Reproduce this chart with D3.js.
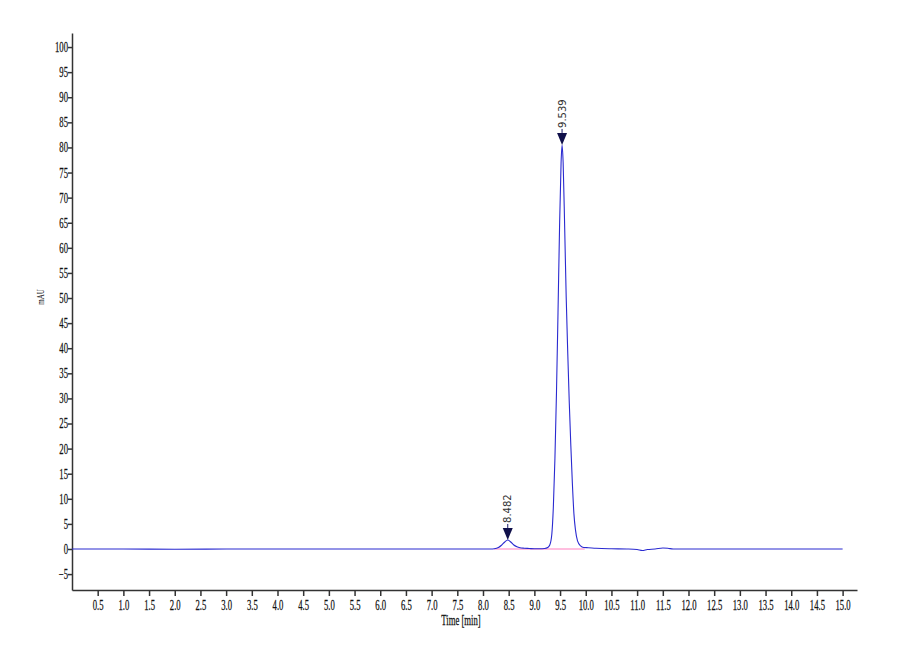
<html lang="en">
  <head>
    <meta charset="utf-8" />
    <title>Chromatogram</title>
    <style>
     body {
       margin: 0;
       background: #ffffff;
     }
     .axis path, .axis line {
       stroke: #333;
       stroke-width: 1.5px;
     }
     .axis text {
       font-family: "Liberation Serif", serif;
       font-size: 14px;
       fill: #111;
       stroke: #111;
       stroke-width: 0.25px;
     }
    </style>
  </head>

  <body>
    <div id="chart"></div>

    <script src="https://d3js.org/d3.v7.min.js"></script>
    <script>

     // trace (time in min, signal in mAU)
     var timeMin = [0.0, 1.0, 2.0, 3.0, 4.0, 5.0, 6.0, 7.0, 7.8, 8.15,
                    8.22, 8.30, 8.36, 8.42, 8.482, 8.54, 8.60, 8.66, 8.72, 8.80,
                    8.90, 9.00, 9.10, 9.20, 9.26, 9.30, 9.34, 9.37, 9.40, 9.43,
                    9.46, 9.49, 9.52, 9.539, 9.56, 9.59, 9.62, 9.65, 9.68, 9.71,
                    9.74, 9.77, 9.80, 9.84, 9.90, 9.96, 10.05, 10.2, 10.5, 10.8,
                    11.0, 11.1, 11.2, 11.35, 11.5, 11.6, 11.7, 12.5, 15.0];
     var signal = [0, 0, -0.05, 0, 0, 0, 0, 0, 0, 0,
                   0.05, 0.3, 0.75, 1.35, 1.8, 1.4, 0.8, 0.45, 0.25, 0.15,
                   0.1, 0.05, 0.05, 0.1, 0.3, 0.8, 3.0, 8.5, 18, 31,
                   47, 64, 77, 80.5, 77, 64, 50, 39, 29, 20.5,
                   13, 7, 3.8, 1.6, 0.6, 0.3, 0.25, 0.15, 0.05, 0,
                   -0.1, -0.3, -0.1, 0, 0.2, 0.15, 0, 0, 0];

     // integration baseline (pink)
     var baseTimes = [8.22, 9.98];
     var baseValues = [0, 0];

     // peak markers
     var peakTimes = [8.482, 9.539];
     var peakHeights = [1.8, 80.5];
     var peakLabels = ["8.482", "9.539"];

     var xTickValues = [0.5, 1.0, 1.5, 2.0, 2.5, 3.0, 3.5, 4.0, 4.5, 5.0, 5.5, 6.0, 6.5, 7.0, 7.5,
                        8.0, 8.5, 9.0, 9.5, 10.0, 10.5, 11.0, 11.5, 12.0, 12.5, 13.0, 13.5, 14.0, 14.5, 15.0];
     var yTickValues = [-5, 0, 5, 10, 15, 20, 25, 30, 35, 40, 45, 50, 55, 60, 65, 70, 75, 80, 85, 90, 95, 100];

     var squeeze = 0.62;

     var svg = d3.select("#chart")
                 .append("svg")
                 .attr("width", 900)
                 .attr("height", 660);

     var x = d3.scaleLinear().domain([0, 15.28]).range([72, 857]);
     var y = d3.scaleLinear().domain([-8.17, 102.8]).range([590, 33]);

     // axes
     var gx = svg.append("g")
        .attr("class", "axis")
        .attr("transform", "translate(0,590)")
        .call(d3.axisBottom(x)
                .tickValues(xTickValues)
                .tickFormat(d3.format(".1f"))
                .tickSize(6)
                .tickSizeOuter(0)
                .tickPadding(4));
     gx.selectAll("text").attr("transform", "scale(" + squeeze + ",1)");

     var gy = svg.append("g")
        .attr("class", "axis")
        .attr("transform", "translate(72,0)")
        .call(d3.axisLeft(y)
                .tickValues(yTickValues)
                .tickFormat(d3.format("d"))
                .tickSize(4)
                .tickSizeOuter(0)
                .tickPadding(1));
     gy.selectAll("text")
       .attr("x", -4 / squeeze)
       .attr("transform", "scale(" + squeeze + ",1)");

     // axis titles
     svg.append("text")
        .attr("transform", "translate(461,625) scale(" + squeeze + ",1)")
        .attr("text-anchor", "middle")
        .attr("font-family", "Liberation Serif, serif")
        .attr("font-size", 14)
        .attr("fill", "#111")
        .attr("stroke", "#111")
        .attr("stroke-width", 0.25)
        .text("Time [min]");

     svg.append("text")
        .attr("transform", "translate(44,297) rotate(-90) scale(0.7,1)")
        .attr("text-anchor", "middle")
        .attr("font-family", "Liberation Serif, serif")
        .attr("font-size", 10)
        .attr("fill", "#111")
        .text("mAU");

     // baseline of the integration
     svg.append("path")
        .datum(d3.range(baseTimes.length))
        .attr("fill", "none")
        .attr("stroke", "#ff7fbf")
        .attr("stroke-width", 1.2)
        .attr("d", d3.line()
                     .x(function(i) { return x(baseTimes[i]); })
                     .y(function(i) { return y(baseValues[i]); }));

     // trace
     svg.append("path")
        .datum(d3.range(timeMin.length))
        .attr("fill", "none")
        .attr("stroke", "#2a2ad0")
        .attr("stroke-width", 1.1)
        .attr("d", d3.line()
                     .curve(d3.curveMonotoneX)
                     .x(function(i) { return x(timeMin[i]); })
                     .y(function(i) { return y(signal[i]); }));

     // peak arrows + labels
     var peaks = svg.selectAll(".peak")
        .data(d3.range(peakTimes.length))
        .enter().append("g")
        .attr("class", "peak")
        .attr("transform", function(i) {
          return "translate(" + x(peakTimes[i]) + "," + y(peakHeights[i]) + ")";
        });

     peaks.append("line")
        .attr("x1", 0).attr("x2", 0)
        .attr("y1", -12).attr("y2", -16)
        .attr("stroke", "#1a1a6a")
        .attr("stroke-width", 1);

     peaks.append("path")
        .attr("d", "M0,0 L-5,-12 L5,-12 Z")
        .attr("fill", "#10104a");

     peaks.append("text")
        .attr("transform", "translate(3.5,-17) rotate(-90)")
        .attr("font-family", "DejaVu Sans, sans-serif")
        .attr("font-size", 10)
        .attr("fill", "#333")
        .text(function(i) { return peakLabels[i]; });

    </script>
  </body>
</html>
